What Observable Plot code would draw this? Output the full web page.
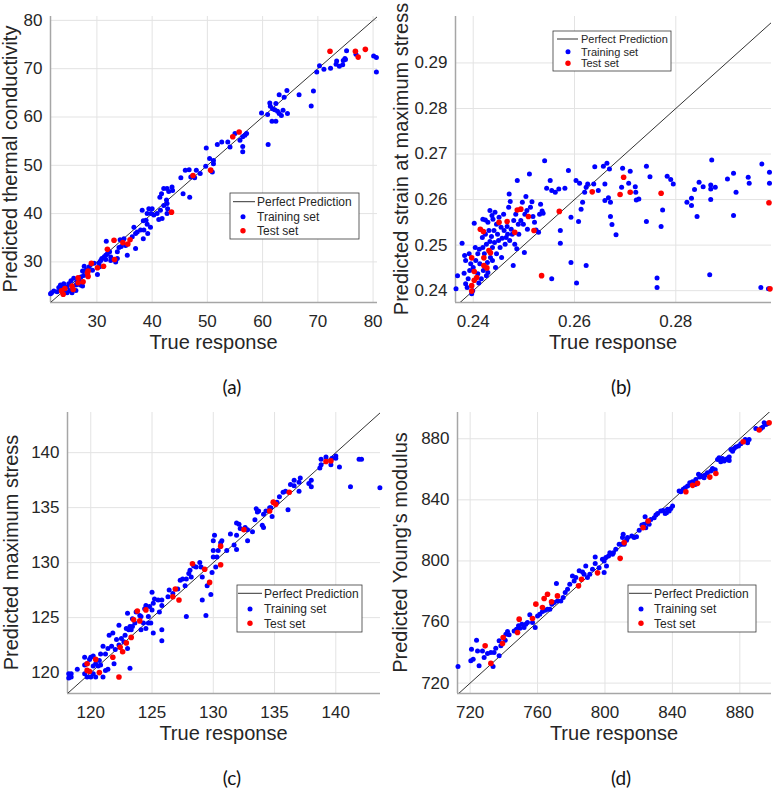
<!DOCTYPE html>
<html>
<head>
<meta charset="utf-8">
<script src="https://cdn.jsdelivr.net/npm/d3@7"></script>
<script src="https://cdn.jsdelivr.net/npm/@observablehq/plot@0.6"></script>
<style>
  html, body { margin: 0; padding: 0; background: #fff; }
  #fig { position: relative; width: 774px; height: 801px; overflow: hidden; background: #fff; }
  .panel { position: absolute; }
</style>
</head>
<body>
<div id="fig"></div>
<script>
// [true response, predicted] pairs for each property

// (a) thermal conductivity
const condTrain = [
  [80.6,69.3],[80.1,72.6],[80.6,72.3],[75.2,73.7],[76.9,73.0],[74.6,71.7],[74.9,72.1],[75.0,71.9],[73.4,71.6],[73.3,70.9],
  [73.9,70.5],[74.5,70.8],[72.3,70.1],[71.1,69.9],[70.3,70.6],[69.8,69.3],[69.2,65.4],[68.8,62.3],[66.6,64.6],[64.4,65.5],
  [63.9,64.1],[63.0,64.6],[62.4,62.8],[61.3,62.9],[61.4,62.2],[61.8,61.7],[61.0,54.3],[59.8,60.8],[60.9,60.5],[61.7,59.1],
  [62.4,59.1],[62.7,61.2],[63.4,60.3],[63.0,60.7],[63.7,61.4],[64.5,60.7],[62.2,61.5],
  [57.1,56.6],[56.4,55.9],[55.9,55.2],[56.4,53.9],[56.4,52.8],[56.8,56.2],[55.0,56.6],[54.1,53.8],[53.7,54.8],[52.6,54.8],
  [51.8,54.3],[49.8,53.6],
  [50.4,51.4],[51.1,51.0],[51.1,50.3],[50.9,48.6],[49.7,49.8],[48.7,48.3],[48.0,49.0],[47.7,47.4],[47.0,47.6],[46.7,49.1],
  [46.0,49.0],[45.2,47.4],[46.8,43.4],[45.6,44.1],
  [43.7,44.8],[43.6,45.5],[43.0,44.6],[42.7,45.2],[42.1,45.2],[41.7,44.1],[41.4,43.4],[42.6,42.8],[42.1,41.7],[42.7,42.1],
  [42.8,41.0],[42.7,40.0],[41.5,40.7],[41.8,39.0],[41.2,38.8],[40.9,40.0],[40.3,39.7],[39.8,40.0],[40.0,41.0],[39.4,41.0],
  [39.1,40.0],[38.9,38.6],[38.4,38.5],[39.1,37.8],[38.2,40.7],[39.7,37.2],[39.2,35.9],[38.5,36.6],[37.9,36.6],[38.4,34.8],
  [37.3,36.2],[36.7,37.2],[37.0,35.9],[36.4,35.2],[37.0,32.8],[35.5,31.4],[34.9,34.8],[35.2,33.4],[34.4,33.2],[34.0,33.0],
  [33.7,32.1],[34.2,34.6],
  [31.7,34.3],[32.3,32.1],[31.9,31.7],[32.5,31.0],[31.6,31.4],[31.3,31.0],[30.9,30.7],[30.7,30.3],[31.6,30.5],[32.5,30.3],
  [33.4,30.0],[33.7,30.7],[30.4,29.8],[30.5,29.0],[30.1,27.4],[29.5,29.7],[29.2,28.3],[28.6,29.0],[27.7,29.1],[28.1,28.4],
  [27.4,28.1],[27.6,27.2],[27.1,26.9],[26.8,26.2],[26.4,25.9],[27.0,25.2],[27.4,25.0],[26.2,25.2],[25.8,26.6],[25.3,26.1],
  [24.9,25.5],[24.6,24.8],[25.1,24.1],[24.3,23.8],[23.9,24.8],[23.4,24.3],[23.1,24.7],[22.8,23.8],[22.2,24.0],[21.8,23.6],
  [21.6,23.4],[24.6,23.6],[25.5,23.6],[26.2,24.1],[24.0,25.5],[23.4,25.2]
];
const condTest = [
  [72.2,73.6],[76.8,73.6],[77.3,72.4],[78.6,74.0],[55.75,56.9],[54.6,55.9],[47.4,47.9],[50.6,49.0],[43.5,40.3],[33.1,34.5],
  [34.7,34.0],[35.6,33.7],[36.0,34.6],[31.9,32.6],[33.2,30.5],[31.2,29.1],[29.0,29.7],[30.1,28.8],[28.4,28.1],[28.3,27.7],
  [28.4,27.0],[26.6,26.7],[26.6,25.7],[27.5,25.9],[25.5,25.0],[25.7,24.3],[24.2,24.5],[23.6,24.0],[23.9,23.3]
];

// (b) strain at maximum stress
const strainTrain = [
  [0.2541,0.2685],[0.2552,0.2642],[0.2545,0.2625],[0.2555,0.2620],[0.2562,0.2616],[0.2569,0.2623],[0.2581,0.2625],[0.2588,0.2664],
  [0.2593,0.2561],[0.2593,0.2462],[0.2572,0.2504],[0.2572,0.2532],[0.2555,0.2426],[0.2604,0.2417],[0.2623,0.2455],
  [0.2603,0.2642],[0.2610,0.2636],[0.2608,0.2552],[0.2613,0.2579],[0.2616,0.2594],[0.2620,0.2616],[0.2623,0.2627],[0.2626,0.2634],
  [0.2640,0.2672],[0.2638,0.2634],[0.2647,0.2620],[0.2657,0.2673],[0.2660,0.2634],[0.2664,0.2680],[0.2669,0.2667],[0.2667,0.2604],
  [0.2660,0.2598],[0.2671,0.2594],[0.2671,0.2563],[0.2674,0.2545],[0.2682,0.2523],[0.2693,0.2627],[0.2695,0.2669],[0.2707,0.2636],
  [0.2710,0.2662],[0.2720,0.2628],[0.2721,0.2616],[0.2722,0.2599],[0.2727,0.2601],[0.2742,0.2673],[0.2749,0.2650],[0.2742,0.2552],
  [0.2763,0.2428],[0.2763,0.2407],[0.2771,0.2541],[0.2774,0.2577],[0.2783,0.2651],[0.2790,0.2644],[0.2795,0.2634],[0.2822,0.2594],
  [0.2831,0.2603],[0.2831,0.2587],[0.2837,0.2622],[0.2842,0.2563],[0.2846,0.2638],[0.2854,0.2628],[0.2867,0.2435],[0.2869,0.2632],
  [0.2869,0.2623],[0.2869,0.2600],[0.2871,0.2687],[0.2878,0.2627],[0.2902,0.2645],[0.2914,0.2658],[0.2914,0.2565],[0.2919,0.2616],
  [0.2943,0.2649],[0.2945,0.2636],[0.2970,0.2678],[0.2968,0.2407],[0.2983,0.2404],[0.2985,0.2660],[0.2985,0.2636],
  [0.2366,0.2404],[0.2369,0.2433],[0.2378,0.2504],[0.2382,0.2438],[0.2383,0.2477],[0.2385,0.2466],[0.2385,0.2415],[0.2388,0.2407],
  [0.2390,0.2426],[0.2392,0.2481],[0.2393,0.2444],[0.2395,0.2459],[0.2399,0.2400],[0.2397,0.2393],[0.2400,0.2451],[0.2402,0.2548],
  [0.2404,0.2495],[0.2405,0.2466],[0.2409,0.2481],[0.2409,0.2437],[0.2411,0.2417],[0.2412,0.2491],[0.2413,0.2459],[0.2416,0.2426],
  [0.2418,0.2517],[0.2419,0.2557],[0.2419,0.2495],[0.2420,0.2444],[0.2422,0.2481],[0.2424,0.2555],[0.2424,0.2524],[0.2426,0.2502],
  [0.2426,0.2433],[0.2428,0.2462],[0.2429,0.2550],[0.2429,0.2440],[0.2431,0.2532],[0.2433,0.2576],[0.2433,0.2508],[0.2434,0.2473],
  [0.2436,0.2519],[0.2437,0.2565],[0.2438,0.2495],[0.2438,0.2466],[0.2439,0.2557],[0.2441,0.2532],[0.2442,0.2506],[0.2443,0.2572],
  [0.2444,0.2451],[0.2446,0.2546],[0.2446,0.2481],[0.2448,0.2524],[0.2450,0.2510],[0.2451,0.2561],[0.2453,0.2495],[0.2455,0.2539],
  [0.2456,0.2473],[0.2457,0.2515],[0.2460,0.2568],[0.2461,0.2532],[0.2463,0.2502],[0.2465,0.2517],[0.2467,0.2541],[0.2468,0.2524],
  [0.2470,0.2583],[0.2471,0.2612],[0.2472,0.2510],[0.2473,0.2596],[0.2475,0.2535],[0.2477,0.2524],[0.2479,0.2455],[0.2480,0.2554],
  [0.2482,0.2502],[0.2484,0.2568],[0.2486,0.2492],[0.2487,0.2642],[0.2489,0.2546],[0.2490,0.2524],[0.2494,0.2554],[0.2497,0.2594],
  [0.2499,0.2546],[0.2501,0.2484],[0.2502,0.2568],[0.2504,0.2607],[0.2506,0.2576],[0.2507,0.2535],[0.2511,0.2656],[0.2513,0.2583],
  [0.2516,0.2595],[0.2518,0.2563],[0.2521,0.2550],[0.2524,0.2533],[0.2529,0.2528],[0.2531,0.2568],[0.2533,0.2590],[0.2536,0.2575],
  [0.2538,0.2570]
];
const strainTest = [
  [0.2986,0.2404],[0.2984,0.2593],[0.2771,0.2614],[0.2710,0.2616],[0.2697,0.2649],[0.2690,0.2611],[0.2635,0.2617],[0.2570,0.2574],
  [0.2535,0.2433],[0.2520,0.2532],[0.2509,0.2563],[0.2494,0.2579],[0.2487,0.2577],[0.2482,0.2528],[0.2467,0.2552],[0.2451,0.2550],
  [0.2414,0.2535],[0.2420,0.2530],[0.2431,0.2488],[0.2434,0.2483],[0.2421,0.2472],[0.2397,0.2472],[0.2421,0.2455],[0.2427,0.2450],
  [0.2402,0.2442],[0.2407,0.2429],[0.2402,0.2423],[0.2397,0.2411],[0.2397,0.2399]
];

// (c) maximum stress
const stressTrain = [
  [143.6,136.8],[142.1,139.4],[141.9,139.4],[141.2,136.9],[140.3,138.7],[140.0,139.7],[140.0,139.5],[139.6,138.9],[139.7,139.5],
  [139.2,139.6],[138.8,139.4],[138.8,138.9],[138.7,138.6],[138.0,137.5],[137.8,137.2],[138.0,136.9],[137.1,137.7],[137.0,137.3],
  [137.0,136.5],[136.6,137.5],[136.6,137.0],[136.3,137.1],[136.1,134.8],[135.9,136.5],[135.7,136.4],[135.4,136.0],[135.2,135.5],
  [134.9,135.5],[134.7,135.0],[134.6,135.0],[134.8,134.2],[134.3,134.7],[134.1,134.4],[134.1,133.2],[134.0,133.4],[133.7,134.7],
  [133.6,134.6],[133.5,134.9],[133.4,133.9],[133.2,132.8],[132.8,133.0],[132.8,132.0],[132.6,133.2],[132.2,133.1],[132.1,133.5],
  [131.9,133.6],[131.9,132.5],[131.9,131.2],[131.7,131.6],[131.4,132.6],[131.1,131.1],[130.7,132.0],[130.6,131.8],[130.1,132.5],
  [130.0,132.0],[130.0,131.1],[130.0,130.5],[130.4,131.1],[130.3,130.5],[130.2,129.6],[129.9,129.1],[129.8,127.1],[129.5,127.9],
  [129.4,125.2],[129.1,126.6],[129.1,128.7],[129.0,129.6],[128.9,130.0],[128.6,129.6],[128.4,129.7],[128.2,128.7],[128.1,129.3],
  [128.0,129.0],[127.8,125.1],[127.8,128.5],[127.7,127.9],[127.5,128.5],[127.3,128.4],[127.1,127.6],[126.7,127.2],[126.4,127.5],
  [126.3,126.9],[125.8,126.6],[125.8,126.1],[125.6,125.5],[125.8,123.9],[125.8,122.9],[125.5,126.6],[125.2,126.7],[125.1,126.3],
  [125.0,127.3],[125.0,125.7],[124.8,126.0],[124.7,125.1],[124.5,126.1],[124.4,125.8],[124.1,125.1],[124.3,124.5],[124.9,124.5],
  [124.7,124.5],[125.1,123.6],[124.5,124.0],[124.1,123.9],[124.0,125.2],[123.7,125.5],[123.6,124.5],[123.4,124.9],[123.4,124.2],
  [123.3,123.9],[123.2,124.2],[123.1,123.9],[122.9,124.0],[123.0,125.4],[122.8,123.4],[123.0,122.2],[123.2,120.4],[122.7,122.8],
  [122.5,123.1],[122.3,124.3],[122.3,122.5],[122.1,123.0],[122.0,122.1],[121.9,120.8],[121.8,123.6],[121.5,123.4],[121.7,122.4],
  [121.4,122.2],[121.2,121.7],[121.4,120.3],[121.0,122.4],[120.8,121.7],[120.7,121.1],[120.6,120.6],[120.8,120.7],[120.4,120.8],
  [120.2,121.5],[120.2,120.6],[120.0,121.4],[119.9,121.2],[119.7,120.8],[119.5,121.4],[119.5,120.7],[119.5,119.9],[119.7,119.6],
  [120.0,119.6],[120.2,119.9],[120.4,119.6],[121.0,119.6],[121.2,120.2],[118.9,120.3],[118.2,119.9],[118.2,119.5],[118.4,119.9],
  [118.4,119.6]
];
const stressTest = [
  [139.6,139.25],[139.2,139.2],[136.2,136.4],[134.9,135.5],[135.1,135.3],[134.6,134.7],[132.5,133.0],[130.6,131.5],[130.6,129.8],
  [129.7,128.2],[129.3,129.4],[128.3,129.9],[127.2,126.6],[126.9,127.6],[126.7,126.9],[124.5,125.7],[123.8,125.6],[124.0,124.7],
  [123.5,124.8],[123.3,123.2],[122.9,122.7],[122.6,121.9],[122.4,122.3],[121.8,121.4],[122.3,119.6],[120.4,121.2],[119.7,120.8],
  [119.7,120.2],[119.9,120.1],[120.7,120.0]
];

// (d) Young's modulus
const modTrain = [
  [895.4,889.4],[893.5,887.6],[892.5,886.8],[889.5,886.8],[894.4,890.5],[896.4,889.8],[884.6,877.4],[885.5,879.6],[883.2,879.6],
  [880.6,876.7],[879.2,875.2],[877.6,874.6],[876.6,873.7],[875.7,871.9],[874.7,873.0],[873.7,868.0],[872.7,867.1],[871.7,866.5],
  [870.7,865.4],[869.7,867.1],[868.7,865.0],[867.7,867.6],[866.8,866.5],[873.7,865.8],[862.8,858.9],[863.8,860.6],[865.4,859.7],
  [860.8,857.8],[859.4,856.2],[858.8,854.5],[857.5,855.6],[856.3,854.9],[855.5,856.7],[853.9,853.4],[851.9,851.9],[850.3,851.2],
  [849.0,849.0],[847.6,847.9],[846.4,846.9],[845.0,845.3],[844.0,845.8],[853.5,850.1],
  [840.1,836.0],[839.1,834.4],[838.1,832.7],[837.1,833.8],[836.5,831.6],[835.7,831.0],[834.5,833.1],[833.1,832.7],[831.2,831.0],
  [830.2,830.1],[829.2,828.3],[827.2,827.2],[826.2,824.0],[825.2,825.1],[824.2,821.8],[823.8,829.0],[823.2,824.0],[821.9,823.5],
  [820.3,820.1],[818.7,815.9],[817.3,815.3],[815.9,816.4],[813.4,815.3],[812.8,813.5],[810.8,817.4],[810.4,815.3],[810.0,810.9],
  [808.4,810.9],[811.4,810.9],
  [806.4,807.6],[805.0,805.4],[804.5,804.4],[802.9,805.4],[802.1,803.3],[800.5,802.2],[799.5,800.0],[798.5,801.1],[800.9,796.7],
  [799.5,792.4],[796.5,795.6],[794.2,798.3],[794.2,802.6],[792.6,794.5],[791.0,791.3],[789.6,789.1],[788.6,796.7],[787.6,791.3],
  [786.7,792.8],[784.7,793.5],[782.7,789.1],[781.7,786.9],[780.7,790.2],[779.1,784.7],[777.8,781.5],[776.4,779.3],[775.2,776.0],
  [773.8,773.8],[771.2,785.2],[771.8,773.8],[769.8,772.8],[768.5,771.7],[767.3,768.4],[765.9,768.4],[764.5,767.7],[762.9,766.9],
  [761.3,765.1],[760.0,764.0],[758.6,756.4],[757.0,759.7],[755.4,764.7],[754.0,759.7],[753.0,758.6],[752.0,756.4],[750.7,758.6],
  [749.5,756.0],[748.7,757.5],[747.5,755.3],[746.1,754.2],[743.1,751.6],[742.2,753.8],[741.2,752.0],[740.8,748.1],[737.2,747.7],
  [738.2,744.4],[737.2,737.9],[735.2,742.9],[734.2,740.1],[733.6,730.9],[732.3,740.1],[730.3,739.4],[728.3,736.8],[724.4,741.1],
  [723.8,748.1],[721.8,735.7],[720.8,742.2],[720.4,734.6],[725.3,731.3],[727.3,741.1],[712.8,730.9]
];
const modTest = [
  [897.4,890.5],[891.5,885.7],[882.0,878.0],[865.8,857.3],[862.2,854.9],[854.9,850.8],[852.0,849.5],[848.0,845.3],[825.6,826.2],
  [822.6,821.8],[811.4,812.0],[809.0,801.7],[795.6,792.2],[786.1,788.0],[784.3,783.7],[771.8,777.1],[768.3,773.2],[765.9,778.2],
  [763.9,775.4],[762.9,769.5],[759.0,771.7],[757.0,762.3],[749.1,761.9],[748.1,753.1],[739.6,749.9],[739.2,745.9],[728.9,744.4],
  [732.3,732.9]
];

// tick values
const condTicks = [30, 40, 50, 60, 70, 80];
const strainXTicks = [0.24, 0.26, 0.28];
const strainYTicks = [0.24, 0.25, 0.26, 0.27, 0.28, 0.29];
const stressTicks = [120, 125, 130, 135, 140];
const modTicks = [720, 760, 800, 840, 880];

// text
const legendLabels = ["Perfect Prediction", "Training set", "Test set"];
const yTitles = ["Predicted thermal conductivity", "Predicted strain at maximum stress", "Predicted maximum stress", "Predicted Young's modulus"];
const xTitle = "True response";
const captions = ["(a)", "(b)", "(c)", "(d)"];

const FONT = "Liberation Sans, Arimo, Arial, sans-serif";
const INK = "#262626";

const panels = [
  {train: condTrain, test: condTest, xDomain: [21.6, 80.8], yDomain: [21.6, 80.8], xTicks: condTicks, yTicks: condTicks,
   fmt: d3.format("d"), left: 0, top: 0, height: 400, m: {l: 50, r: 10, t: 16, b: 98}, titleX: 10, capX: 232,
   legend: {x: 230, y: 193, w: 129, h: 46, rows: [201.7, 216.7, 230.7], line: [233, 255], dot: 243, text: 257, font: 12}},
  {train: strainTrain, test: strainTest, xDomain: [0.2365, 0.2989], yDomain: [0.2374, 0.3002], xTicks: strainXTicks, yTicks: strainYTicks,
   fmt: d3.format(".2f"), left: 387, top: 0, height: 400, m: {l: 68, r: 3, t: 16, b: 98}, titleX: 14, capX: 234,
   legend: {x: 166, y: 31, w: 118, h: 40, rows: [39, 51.7, 63.3], line: [170, 191], dot: 181, text: 194, font: 11}},
  {train: stressTrain, test: stressTest, xDomain: [118.1, 143.65], yDomain: [118.1, 143.65], xTicks: stressTicks, yTicks: stressTicks,
   fmt: d3.format("d"), left: 0, top: 396, height: 405, m: {l: 67, r: 7, t: 16, b: 108}, titleX: 11, capX: 232,
   legend: {x: 237, y: 189, w: 125, h: 47, rows: [197.3, 213, 227.3], line: [238, 262], dot: 250, text: 264, font: 12}},
  {train: modTrain, test: modTest, xDomain: [712.5, 898.8], yDomain: [713.2, 897.2], xTicks: modTicks, yTicks: modTicks,
   fmt: d3.format("d"), left: 387, top: 396, height: 405, m: {l: 70, r: 3, t: 16, b: 108}, titleX: 13, capX: 234,
   legend: {x: 241, y: 189, w: 128, h: 47, rows: [197.3, 213, 227.3], line: [242, 265], dot: 254, text: 267, font: 12}}
];

const fig = document.getElementById("fig");

panels.forEach((p, i) => {
  const W = 387;
  const lo = Math.min(p.xDomain[0], p.yDomain[0]);
  const hi = Math.max(p.xDomain[1], p.yDomain[1]);
  const svg = Plot.plot({
    width: W,
    height: p.height,
    marginLeft: p.m.l, marginRight: p.m.r, marginTop: p.m.t, marginBottom: p.m.b,
    style: {fontFamily: FONT, fontSize: "17px", color: INK, background: "transparent"},
    x: {domain: p.xDomain, label: null},
    y: {domain: p.yDomain, label: null},
    marks: [
      Plot.gridX(p.xTicks, {stroke: "#e3e3e3", strokeOpacity: 1}),
      Plot.gridY(p.yTicks, {stroke: "#e3e3e3", strokeOpacity: 1}),
      Plot.ruleX([p.xDomain[0]], {stroke: "#a6a6a6", strokeWidth: 1.5}),
      Plot.ruleY([p.yDomain[0]], {stroke: "#a6a6a6", strokeWidth: 1.5}),
      Plot.axisX(p.xTicks, {tickSize: 0, tickPadding: 12, tickFormat: p.fmt, fontSize: 17, fill: INK, label: null}),
      Plot.axisY(p.yTicks, {tickSize: 0, tickPadding: 8, tickFormat: p.fmt, fontSize: 17, fill: INK, label: null}),
      Plot.line([[lo, lo], [hi, hi]], {x: d => d[0], y: d => d[1], stroke: "#333", strokeWidth: 1, clip: true}),
      Plot.dot(p.train, {x: d => d[0], y: d => d[1], r: 2.5, fill: "#0000ff", stroke: "none"}),
      Plot.dot(p.test, {x: d => d[0], y: d => d[1], r: 2.8, fill: "#ff0000", stroke: "none"})
    ]
  });

  const s = d3.select(svg);
  const plotBottom = p.height - p.m.b;
  const midY = (p.m.t + plotBottom) / 2;
  const midX = (p.m.l + W - p.m.r) / 2;

  // axis titles
  s.append("text")
    .attr("transform", `translate(${p.titleX},${midY}) rotate(-90)`)
    .attr("text-anchor", "middle").attr("dy", "0.35em")
    .style("font-family", FONT).style("font-size", "20px").attr("fill", INK)
    .text(yTitles[i]);
  s.append("text")
    .attr("x", midX).attr("y", plotBottom + 40)
    .attr("text-anchor", "middle").attr("dy", "0.35em")
    .style("font-family", FONT).style("font-size", "20px").attr("fill", INK)
    .text(xTitle);

  // sub-figure caption
  s.append("text")
    .attr("x", p.capX).attr("y", plotBottom + 85)
    .attr("text-anchor", "middle").attr("dy", "0.35em")
    .style("font-family", "Lato, 'DejaVu Sans', sans-serif").style("font-size", "19px").attr("fill", "#111")
    .text(captions[i]);

  // legend box
  const L = p.legend;
  const g = s.append("g").attr("text-anchor", "start");
  g.append("rect").attr("x", L.x).attr("y", L.y).attr("width", L.w).attr("height", L.h)
    .attr("fill", "#fff").attr("stroke", "#3a3a3a").attr("stroke-width", 0.8);
  g.append("line").attr("x1", L.line[0]).attr("x2", L.line[1]).attr("y1", L.rows[0]).attr("y2", L.rows[0])
    .attr("stroke", "#333").attr("stroke-width", 1);
  g.append("circle").attr("cx", L.dot).attr("cy", L.rows[1]).attr("r", 2.5).attr("fill", "#0000ff");
  g.append("circle").attr("cx", L.dot).attr("cy", L.rows[2]).attr("r", 2.7).attr("fill", "#ff0000");
  legendLabels.forEach((t, k) => {
    g.append("text").attr("x", L.text).attr("y", L.rows[k]).attr("dy", "0.35em")
      .attr("text-anchor", "start")
      .style("font-family", FONT).style("font-size", L.font + "px").attr("fill", INK).text(t);
  });

  const holder = document.createElement("div");
  holder.className = "panel";
  holder.style.left = p.left + "px";
  holder.style.top = p.top + "px";
  holder.appendChild(svg);
  fig.appendChild(holder);
});
</script>
</body>
</html>
